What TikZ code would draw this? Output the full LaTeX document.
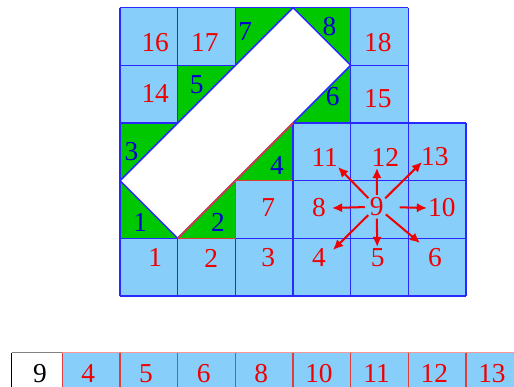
\documentclass[tikz,border=0pt]{standalone}
\usepackage{fontspec}
\setmainfont{Liberation Serif}
\usetikzlibrary{arrows.meta}
\definecolor{cellblue}{RGB}{135,206,250}
\definecolor{cutgreen}{RGB}{0,200,0}
\definecolor{gridblue}{RGB}{40,40,255}
\definecolor{numred}{RGB}{240,0,0}
\definecolor{numblue}{RGB}{0,0,210}
\definecolor{edgered}{RGB}{225,60,60}
\definecolor{toppink}{RGB}{250,150,150}
\tikzset{
  cellnum/.style={text=numred,font=\fontsize{13.5}{15}\selectfont,inner sep=1pt},
  cutnum/.style={text=numblue,font=\fontsize{13.5}{15}\selectfont,inner sep=1pt},
  centrenum/.style={cellnum,circle,inner sep=0pt,minimum size=0.4cm},
  gridline/.style={draw=gridblue,line width=0.75pt},
  cutline/.style={draw=edgered,line width=0.75pt},
  nbarrow/.style={-{Latex[length=5pt,width=4.6pt]},draw=numred,line width=1pt},
  stripline/.style={draw=edgered,line width=0.75pt}
}
\begin{document}
\begin{tikzpicture}
\useasboundingbox (-2.081,-1.561) rectangle (6.832,5.133);
\clip (-2.081,-1.561) rectangle (6.832,5.133);
% lattice cells
\fill[cellblue] (0,0) -| (6,3) -| (5,5) -| (0,0) -- cycle;
\foreach \c/\r in {0/1,1/1,0/2,2/2,1/3,3/3,2/4,3/4}
  \fill[cutgreen] (\c,\r) rectangle ++(1,1);
\draw[gridline] (0,0) grid (6,3);
\draw[gridline] (0,3) grid (5,5);
% obstacle
\filldraw[fill=white,gridline] (0,2) -- (1,1) -- (4,4) -- (3,5) -- cycle;
\draw[cutline] (1,1) -- (3,3);
\draw[cutline] (1,1) -- (2,1) -- (2,2) -- (3,2);
% fluid cell numbers
\foreach \n/\x/\y in {1/0.61/0.66,2/1.58/0.66,3/2.57/0.66,4/3.45/0.66,
    5/4.47/0.66,6/5.46/0.66,7/2.57/1.53,8/3.45/1.53,10/5.58/1.53,
    11/3.55/2.41,12/4.60/2.41,13/5.46/2.41,14/0.61/3.52,15/4.47/3.43,
    16/0.61/4.40,17/1.47/4.40,18/4.47/4.40}
  \node[cellnum] (c\n) at (\x,\y) {\n};
\node[centrenum] (c9) at (4.451,1.548) {9};
% cut cell numbers
\foreach \n/\x/\y in {1/0.35/1.28,2/1.70/1.28,3/0.20/2.50,4/2.72/2.27,
    5/1.33/3.66,6/3.69/3.45,7/2.17/4.58,8/3.63/4.67}
  \node[cutnum] (g\n) at (\x,\y) {\n};
% neighbours of 9
\coordinate (t11) at (3.78,2.237);
\coordinate (t12) at (4.456,2.22);
\coordinate (t13) at (5.237,2.324);
\coordinate (t8) at (3.676,1.526);
\coordinate (t10) at (5.323,1.526);
\coordinate (t4) at (3.693,0.798);
\coordinate (t5) at (4.46,0.85);
\coordinate (t6) at (5.202,0.919);
\foreach \t in {11,12,13,8,4,5,6}
  \draw[nbarrow] (c9) -- (t\t);
\draw[nbarrow,shorten <=0.19cm] (c9) -- (t10);
% neighbour list
\fill[cellblue] (-1,-0.983) rectangle (7,-1.8);
\fill[white] (-1.878,-0.983) rectangle (-1,-1.8);
\draw[draw=toppink,line width=0.75pt] (-1,-0.983) -- (7,-0.983);
\draw[draw=gray,line width=0.75pt] (-1.878,-0.983) -- (-1,-0.983);
\draw[draw=black,line width=0.75pt] (-1.878,-0.983) -- (-1.878,-1.8);
\foreach \k in {-1,...,6}
  \draw[stripline] (\k,-0.983) -- (\k,-1.8);
\node[cellnum,text=black] (s9) at (-1.39,-1.34) {9};
\foreach \v [count=\k from 0] in {4,5,6,8,10,11,12,13}
  \node[cellnum] (s\v) at (\k-0.55,-1.34) {\v};
\end{tikzpicture}
\end{document}
